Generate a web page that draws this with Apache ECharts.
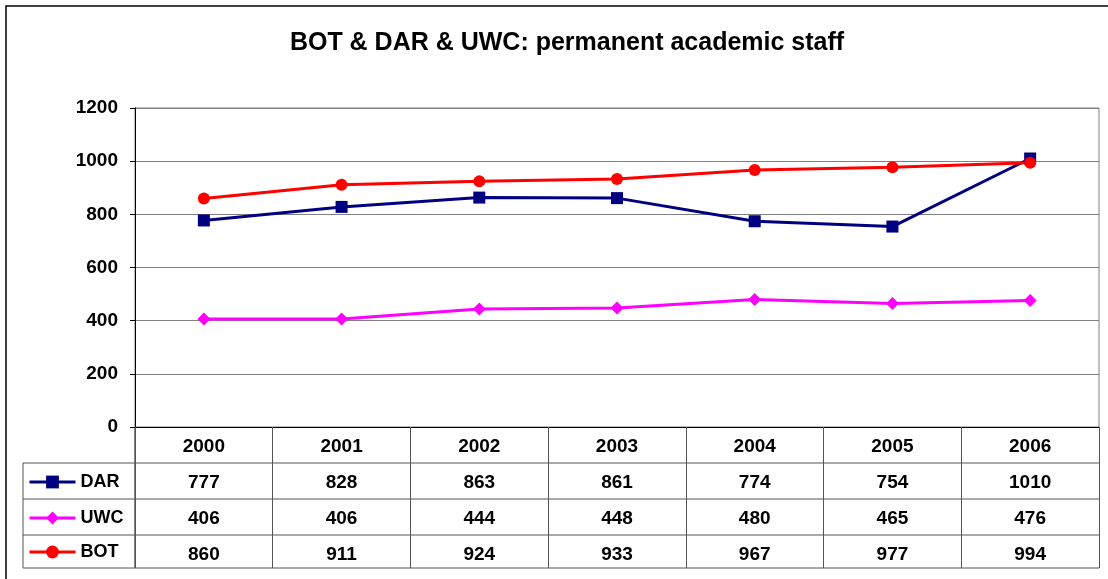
<!DOCTYPE html>
<html>
<head>
<meta charset="utf-8">
<script src="https://cdn.jsdelivr.net/npm/echarts@6/dist/echarts.min.js"></script>
<style>
  html, body { margin: 0; padding: 0; background: #fff; }
  #chart { width: 1108px; height: 579px; }
</style>
</head>
<body>
<div id="chart"></div>
<script>
// data
const years = ['2000', '2001', '2002', '2003', '2004', '2005', '2006'];
const dar = [777, 828, 863, 861, 774, 754, 1010];
const uwc = [406, 406, 444, 448, 480, 465, 476];
const bot = [860, 911, 924, 933, 967, 977, 994];
const yTicks = [0, 200, 400, 600, 800, 1000, 1200];
const names = ['DAR', 'UWC', 'BOT'];

const font = 'Liberation Sans, Arial, sans-serif';
const myChart = echarts.init(document.getElementById('chart'));

// table row lines under the plot
const rowLines = [463, 499, 535, 568].map(function (y) {
  return { type: 'line', shape: { x1: 23, y1: y, x2: 1099, y2: y }, style: { stroke: '#555', lineWidth: 1 } };
});

// one legend per table row so each sits in its own cell
const rowCenters = [481, 517, 551];
const legends = names.map(function (n, i) {
  return {
    orient: 'vertical',
    left: 28,
    top: rowCenters[i] - 8,
    padding: 0,
    itemWidth: 46,
    itemHeight: 16,
    itemGap: 5,
    lineStyle: { width: 3 },
    textStyle: { fontFamily: font, fontSize: 18, fontWeight: 'bold', color: '#000' },
    data: [n]
  };
});

myChart.setOption({
  animation: false,
  title: {
    text: 'BOT & DAR & UWC: permanent academic staff',
    left: 562,
    textAlign: 'center',
    top: 26,
    textStyle: { fontFamily: font, fontSize: 25, fontWeight: 'bold', color: '#000' }
  },
  legend: legends,
  grid: {
    left: 135, right: 9, top: 108, bottom: 152,
    show: true, borderColor: '#808080', borderWidth: 1
  },
  xAxis: {
    type: 'category',
    data: years,
    boundaryGap: true,
    axisLine: { lineStyle: { color: '#000', width: 1 } },
    axisTick: { show: true, interval: 0, length: 141, lineStyle: { color: '#555' } },
    axisLabel: {
      interval: 0,
      margin: 2,
      fontFamily: font,
      fontSize: 19,
      fontWeight: 'bold',
      color: '#000',
      lineHeight: 36,
      formatter: function (v, i) {
        return [v, dar[i], uwc[i], bot[i]].join('\n');
      }
    }
  },
  yAxis: {
    type: 'value',
    min: yTicks[0],
    max: yTicks[yTicks.length - 1],
    interval: 200,
    axisLine: { show: true, lineStyle: { color: '#000', width: 1 } },
    axisTick: { show: true, length: 5, lineStyle: { color: '#000' } },
    splitLine: { lineStyle: { color: '#808080', width: 1 } },
    axisLabel: {
      margin: 17, fontFamily: font, fontSize: 19, fontWeight: 'bold', color: '#000',
      formatter: function (v) { return String(v); }
    }
  },
  series: [
    {
      name: 'DAR', type: 'line', data: dar,
      symbol: 'rect', symbolSize: 12,
      lineStyle: { color: '#000080', width: 3 },
      itemStyle: { color: '#000080' }
    },
    {
      name: 'UWC', type: 'line', data: uwc,
      symbol: 'diamond', symbolSize: 13,
      lineStyle: { color: '#ff00ff', width: 3 },
      itemStyle: { color: '#ff00ff' }
    },
    {
      name: 'BOT', type: 'line', data: bot,
      symbol: 'circle', symbolSize: 12,
      lineStyle: { color: '#ff0000', width: 3 },
      itemStyle: { color: '#ff0000' }
    }
  ],
  graphic: [
    { type: 'rect', shape: { x: 6, y: 6, width: 1114, height: 600 }, style: { fill: 'none', stroke: '#000', lineWidth: 1.5 }, silent: true },
    { type: 'line', shape: { x1: 23, y1: 463, x2: 23, y2: 568 }, style: { stroke: '#555', lineWidth: 1 } },
    { type: 'line', shape: { x1: 135, y1: 427, x2: 135, y2: 568 }, style: { stroke: '#000', lineWidth: 1 } }
  ].concat(rowLines)
});
</script>
</body>
</html>
